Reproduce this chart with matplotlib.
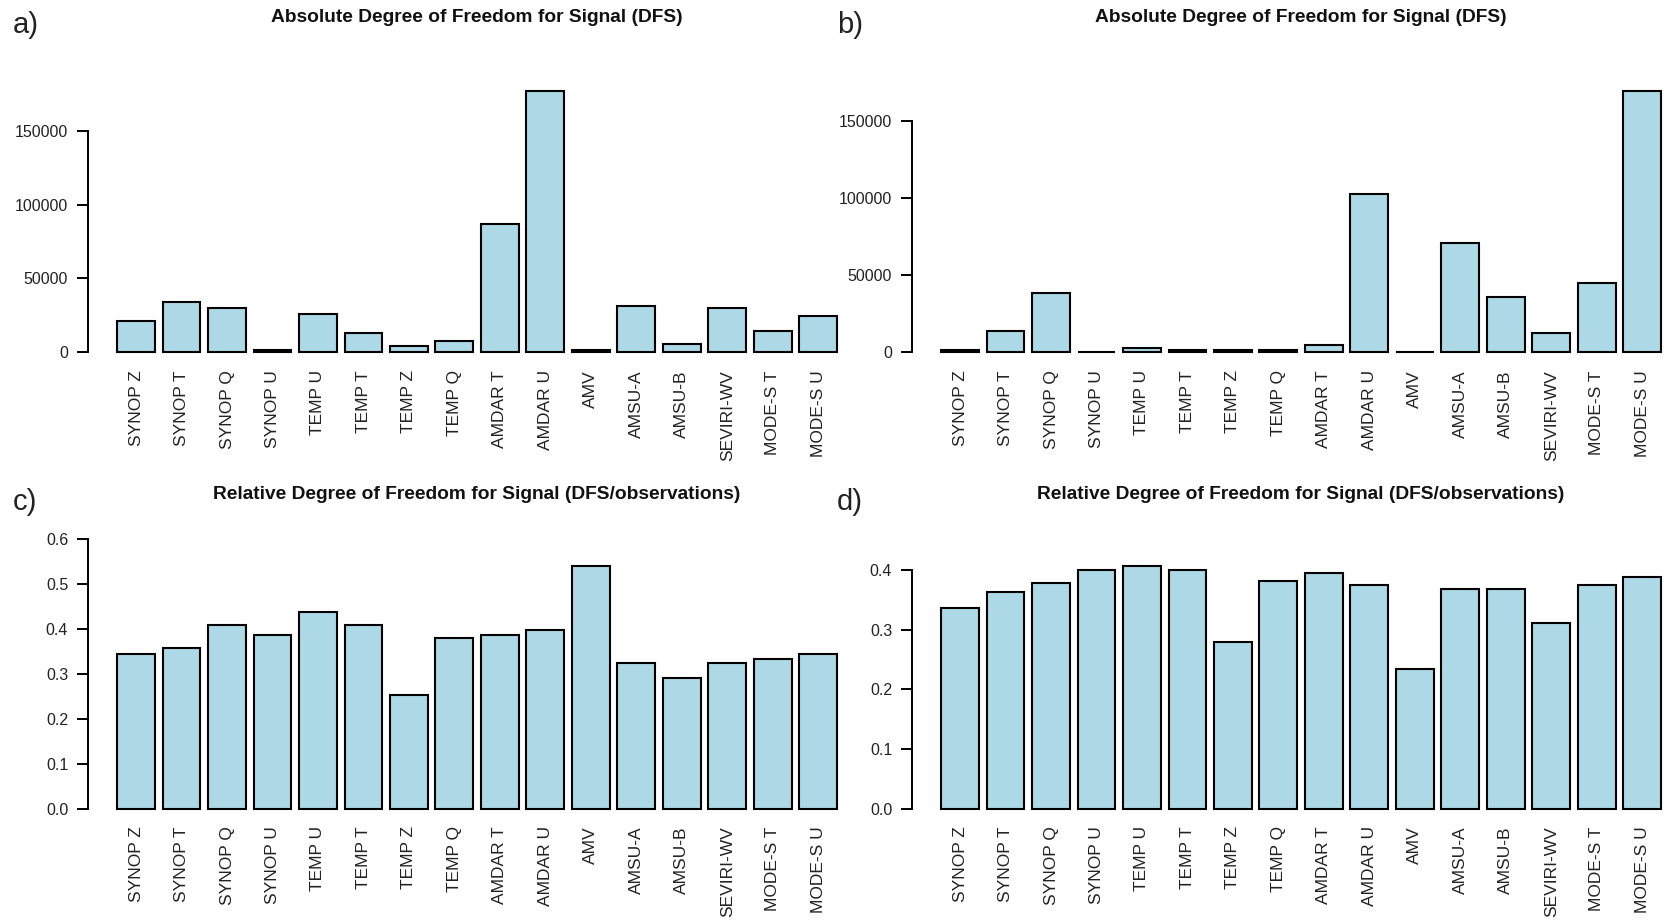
import matplotlib
matplotlib.use("Agg")
import matplotlib.pyplot as plt
import numpy as np

plt.rcParams['font.family'] = ['Liberation Sans', 'DejaVu Sans']

categories = ['SYNOP Z', 'SYNOP T', 'SYNOP Q', 'SYNOP U', 'TEMP U', 'TEMP T',
              'TEMP Z', 'TEMP Q', 'AMDAR T', 'AMDAR U', 'AMV', 'AMSU-A',
              'AMSU-B', 'SEVIRI-WV', 'MODE-S T', 'MODE-S U']

# absolute DFS
dfs_a = [21300, 34000, 30000, 1200, 25800, 13000, 4400, 7200,
         87000, 177000, 1200, 31300, 5800, 30000, 14200, 24300]
dfs_b = [1100, 13600, 38400, 300, 2800, 1100, 1100, 1100,
         4300, 102500, 300, 70800, 35700, 12300, 44900, 169500]

# relative DFS (DFS / observations)
rel_c = [0.343, 0.357, 0.408, 0.385, 0.436, 0.408, 0.253, 0.380,
         0.385, 0.398, 0.539, 0.324, 0.290, 0.324, 0.333, 0.343]
rel_d = [0.336, 0.364, 0.378, 0.400, 0.407, 0.400, 0.280, 0.382,
         0.396, 0.375, 0.234, 0.368, 0.368, 0.312, 0.375, 0.389]

ticks_abs = [0, 50000, 100000, 150000]
ticks_c = [0.0, 0.1, 0.2, 0.3, 0.4, 0.5, 0.6]
ticks_d = [0.0, 0.1, 0.2, 0.3, 0.4]

title_abs = 'Absolute Degree of Freedom for Signal (DFS)'
title_rel = 'Relative Degree of Freedom for Signal (DFS/observations)'

W, H = 1665, 923
fig = plt.figure(figsize=(W / 100, H / 100), dpi=100)

# R barplot style geometry: width 1, space 0.2
n = len(categories)
x = 0.7 + 1.2 * np.arange(n)
xlo, xhi = 0.2 - 0.76, 0.2 + 1.2 * n - 0.2 + 0.76
unit_px = 37.9
ax_w = (xhi - xlo) * unit_px


def panel(left, bottom, height, values, yticks, ylabels, title, letter, title_y):
    vmax = max(values)
    lo, hi = -0.04 * vmax, 1.04 * vmax
    scale = height / (hi - lo)
    top = max(hi, yticks[-1])
    h = (top - lo) * scale
    ax = fig.add_axes([left / W, 1 - bottom / H, ax_w / W, h / H])
    ax.bar(x, values, width=1.0, color='#ADD8E6', edgecolor='black', linewidth=1.5)
    ax.set_xlim(xlo, xhi)
    ax.set_ylim(lo, top)
    for s in ['top', 'right', 'bottom']:
        ax.spines[s].set_visible(False)
    ax.spines['left'].set_bounds(yticks[0], yticks[-1])
    ax.spines['left'].set_linewidth(1.4)
    ax.set_yticks(yticks)
    ax.set_yticklabels(ylabels, fontsize=11.5, color='#222222')
    ax.tick_params(axis='y', length=8, width=1.4, pad=6.5)
    ax.set_xticks(x)
    ax.set_xticklabels(categories, rotation=90, fontsize=12.5, va='top',
                       color='#222222')
    ax.tick_params(axis='x', length=0, pad=5.5)
    ax.patch.set_visible(False)
    cx = left + ax_w / 2
    fig.text(cx / W, 1 - title_y / H, title, ha='center', va='center',
             fontsize=13.8, fontweight='bold', color='#111111')
    lx = 13 if left < 500 else 837
    fig.text(lx / W, 1 - (title_y + 15) / H, letter, ha='left', va='baseline',
             fontsize=21, color='#222222')
    return ax


lab_abs = [str(t) for t in ticks_abs]
panel(88.3, 362.5, 281.5, dfs_a, ticks_abs, lab_abs, title_abs, 'a)', 18)
panel(912.3, 362.5, 281.5, dfs_b, ticks_abs, lab_abs, title_abs, 'b)', 18)
panel(88.3, 818.5, 262.2, rel_c, ticks_c, ['%.1f' % t for t in ticks_c], title_rel, 'c)', 495)
panel(912.3, 818.5, 262.2, rel_d, ticks_d, ['%.1f' % t for t in ticks_d], title_rel, 'd)', 495)

fig.savefig('out.png', dpi=100)
